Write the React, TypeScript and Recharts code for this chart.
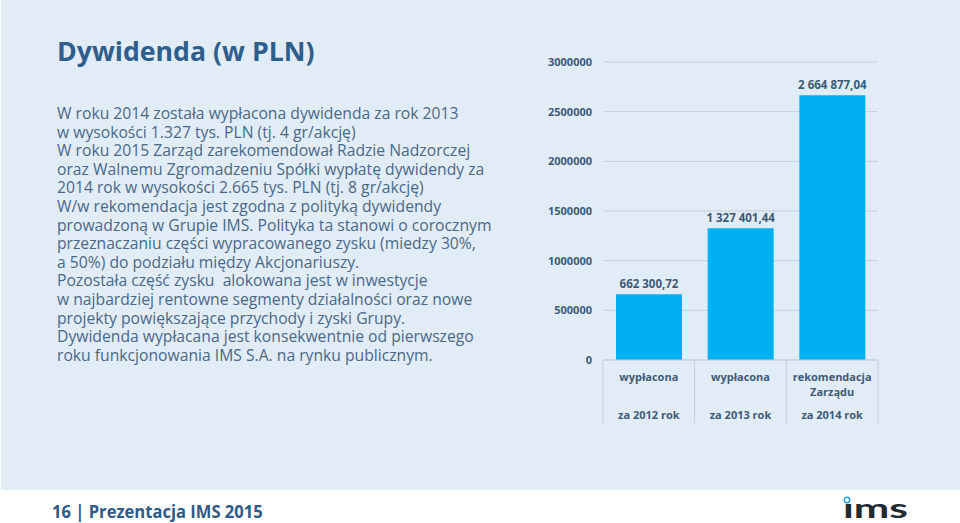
import { BarChart, Bar, XAxis, YAxis, CartesianGrid, LabelList } from 'recharts';

const categoryTop = ['wypłacona', 'wypłacona', 'rekomendacja'];
const categoryMid = ['', '', 'Zarządu'];
const categoryYear = ['za 2012 rok', 'za 2013 rok', 'za 2014 rok'];
const dividendValues = [662300.72, 1327401.44, 2664877.04];
const yTicks = [0, 500000, 1000000, 1500000, 2000000, 2500000, 3000000];

const paragraphLines = [
  'W roku 2014 została wypłacona dywidenda za rok 2013',
  'w wysokości 1.327 tys. PLN (tj. 4 gr/akcję)',
  'W roku 2015 Zarząd zarekomendował Radzie Nadzorczej',
  'oraz Walnemu Zgromadzeniu Spółki wypłatę dywidendy za',
  '2014 rok w wysokości 2.665 tys. PLN (tj. 8 gr/akcję)',
  'W/w rekomendacja jest zgodna z polityką dywidendy',
  'prowadzoną w Grupie IMS. Polityka ta stanowi o corocznym',
  'przeznaczaniu części wypracowanego zysku (miedzy 30%,',
  'a 50%) do podziału między Akcjonariuszy.',
  'Pozostała część zysku  alokowana jest w inwestycje',
  'w najbardziej rentowne segmenty działalności oraz nowe',
  'projekty powiększające przychody i zyski Grupy.',
  'Dywidenda wypłacana jest konsekwentnie od pierwszego',
  'roku funkcjonowania IMS S.A. na rynku publicznym.',
];

const data = categoryTop.map((top, i) => ({
  top,
  mid: categoryMid[i],
  year: categoryYear[i],
  value: dividendValues[i],
}));

const BG = '#E1ECF7';
const TEXT = '#4A6888';
const AXIS_TEXT = '#3E5A78';
const BAR = '#00B0F0';
const GRID = '#C3CFDB';

const CHART_W = 400;
const CHART_H = 400;
const Y_AXIS_W = 63;
const MARGIN = { top: 22, right: 62, bottom: 0, left: 0 };
const BAND = (CHART_W - Y_AXIS_W - MARGIN.left - MARGIN.right) / categoryTop.length;

const fmtPl = (v: number) => {
  const [int, dec] = v.toFixed(2).split('.');
  return int.replace(/\B(?=(\d{3})+(?!\d))/g, ' ') + ',' + dec;
};

const CategoryTick = (props: any) => {
  const { x, y, payload, index } = props;
  const i = payload?.index ?? index;
  const d = data[i];
  const half = BAND / 2;
  const txt = { fill: AXIS_TEXT, fontSize: 11, fontWeight: 700, textAnchor: 'middle' as const };
  return (
    <g>
      <line x1={x - half} x2={x - half} y1={y} y2={y + 63} stroke={GRID} />
      {i === data.length - 1 && <line x1={x + half} x2={x + half} y1={y} y2={y + 63} stroke={GRID} />}
      <text x={x} y={y + 21} {...txt}>{d.top}</text>
      {d.mid && <text x={x} y={y + 36} {...txt}>{d.mid}</text>}
      <text x={x} y={y + 59} {...txt}>{d.year}</text>
    </g>
  );
};

const ValueLabel = (props: any) => {
  const { x, y, width, value } = props;
  return (
    <text x={x + width / 2} y={y - 6} textAnchor="middle" fill={AXIS_TEXT} fontSize={11.5} fontWeight={700}>
      {fmtPl(Number(value))}
    </text>
  );
};

export default function App() {
  return (
    <div
      style={{
        position: 'absolute',
        left: 0,
        top: 0,
        width: 960,
        height: 523,
        background: '#fff',
        fontFamily: '"Open Sans", sans-serif',
        overflow: 'hidden',
      }}
    >
      <div style={{ position: 'absolute', left: 1, top: 0, width: 959, height: 490, background: BG }} />
      <div
        style={{
          position: 'absolute',
          left: 57,
          top: 32,
          fontSize: 26.7,
          fontWeight: 700,
          color: '#2F5E8C',
          whiteSpace: 'nowrap',
        }}
      >
        Dywidenda (w PLN)
      </div>
      <div
        style={{
          position: 'absolute',
          left: 57,
          top: 104,
          fontSize: 15.7,
          lineHeight: '18.6px',
          color: TEXT,
          whiteSpace: 'pre',
        }}
      >
        {paragraphLines.join('\n')}
      </div>
      <div style={{ position: 'absolute', left: 540, top: 40 }}>
        <BarChart width={CHART_W} height={CHART_H} data={data} margin={MARGIN}>
          <CartesianGrid vertical={false} stroke={GRID} />
          <XAxis
            dataKey="year"
            height={CHART_H - MARGIN.top - 298}
            axisLine={{ stroke: GRID }}
            tickLine={false}
            tickSize={0}
            tickMargin={0}
            interval={0}
            tick={<CategoryTick />}
          />
          <YAxis
            width={Y_AXIS_W}
            domain={[0, 3000000]}
            ticks={yTicks}
            axisLine={false}
            tickLine={false}
            tickMargin={5}
            tick={{ fill: AXIS_TEXT, fontSize: 11, fontWeight: 700 }}
          />
          <Bar dataKey="value" fill={BAR} barSize={66} isAnimationActive={false}>
            <LabelList dataKey="value" content={<ValueLabel />} />
          </Bar>
        </BarChart>
      </div>
      <div
        style={{
          position: 'absolute',
          left: 52,
          top: 500,
          fontSize: 17,
          fontWeight: 700,
          color: '#2F5A87',
          whiteSpace: 'nowrap',
          transform: 'scaleX(0.975)',
          transformOrigin: 'left center',
        }}
      >
        16 | Prezentacja IMS 2015
      </div>
      <svg style={{ position: 'absolute', left: 840, top: 492 }} width={80} height={31}>
        <circle cx={7} cy={8} r={2.8} fill="none" stroke="#1FA3D8" strokeWidth={1.4} />
        <text
          x={3}
          y={26}
          fontSize={27}
          fontWeight={700}
          fill="#1F2A33"
          fontFamily="Lato, sans-serif"
          textLength={65}
          lengthAdjust="spacingAndGlyphs"
        >
          ıms
        </text>
      </svg>
    </div>
  );
}
